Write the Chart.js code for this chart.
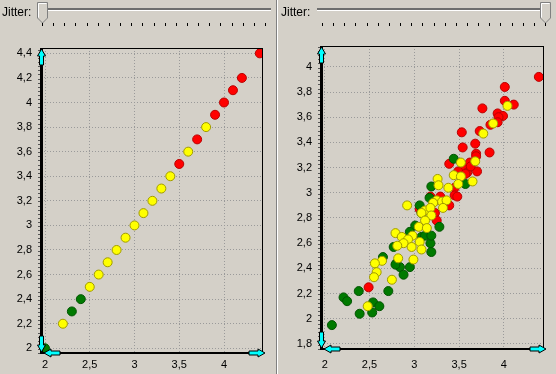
<!DOCTYPE html>
<html>
<head>
<meta charset="utf-8">
<script src="https://cdn.jsdelivr.net/npm/chart.js@4.4.0/dist/chart.umd.min.js"></script>
<style>
  html, body { margin:0; padding:0; background:#d4d0c8; }
  body { width:556px; height:374px; position:relative; overflow:hidden; font-family:"Liberation Sans", Arial, sans-serif; }
  .lbl { position:absolute; top:5px; font-size:12px; color:#000; z-index:5; }
  .track { position:absolute; top:8px; height:2px; background:#6e6e6e; border-bottom:1px solid #ffffff; z-index:5; }
  .ticks { position:absolute; top:23px; z-index:6; }
  .thumb { position:absolute; top:2px; z-index:6; }
  .box { position:absolute; top:0; z-index:1; }
  #sep1 { position:absolute; left:276px; top:0; width:1px; height:374px; background:#808080; }
  #sep2 { position:absolute; left:277px; top:0; width:1px; height:374px; background:#ffffff; }
</style>
</head>
<body>
<div class="lbl" style="left:2px">Jitter:</div>
<div class="track" style="left:45px;width:226px"></div>
<svg class="thumb" style="left:37px" width="12" height="22"><polygon points="0.5,0.5 10.5,0.5 10.5,16 5.5,21 0.5,16" fill="#d4d0c8" stroke="#808080"/><polyline points="1.5,15.5 1.5,1.5 9.5,1.5" fill="none" stroke="#ffffff"/></svg>
<svg class="ticks" id="ticksL" style="left:0" width="277" height="4"></svg>

<div class="lbl" style="left:281px">Jitter:</div>
<div class="track" style="left:317px;width:232px"></div>
<svg class="thumb" style="left:540px" width="12" height="22"><polygon points="0.5,0.5 10.5,0.5 10.5,16 5.5,21 0.5,16" fill="#d4d0c8" stroke="#808080"/><polyline points="1.5,15.5 1.5,1.5 9.5,1.5" fill="none" stroke="#ffffff"/></svg>
<svg class="ticks" id="ticksR" style="left:0" width="556" height="4"></svg>

<div id="sep1"></div><div id="sep2"></div>

<div class="box" style="left:0;width:277px;height:374px"><canvas id="cL" width="277" height="374"></canvas></div>
<div class="box" style="left:279px;width:277px;height:374px"><canvas id="cR" width="277" height="374"></canvas></div>

<script>
// ---------- data ----------
const sliderTickCount = 21;

const xTickValues = [2, 2.5, 3, 3.5, 4];
const leftYTickValues = [2, 2.2, 2.4, 2.6, 2.8, 3, 3.2, 3.4, 3.6, 3.8, 4, 4.2, 4.4];
const rightYTickValues = [1.8, 2, 2.2, 2.4, 2.6, 2.8, 3, 3.2, 3.4, 3.6, 3.8, 4];

// left panel (no jitter): x equals y
const leftGreenX  = [2.0, 2.3, 2.4];
const leftGreenY  = [2.0, 2.3, 2.4];
const leftYellowX = [2.2, 2.5, 2.6, 2.7, 2.8, 2.9, 3.0, 3.1, 3.2, 3.3, 3.4, 3.6, 3.8];
const leftYellowY = [2.2, 2.5, 2.6, 2.7, 2.8, 2.9, 3.0, 3.1, 3.2, 3.3, 3.4, 3.6, 3.8];
const leftRedX    = [3.5, 3.7, 3.9, 4.0, 4.1, 4.2, 4.4];
const leftRedY    = [3.5, 3.7, 3.9, 4.0, 4.1, 4.2, 4.4];

// right panel (full jitter)
const rightRedX = [4.39, 4.01, 4.01, 4.11, 3.76, 3.93, 3.99, 3.94, 3.93, 3.85, 3.53, 3.73, 3.68, 3.54, 3.84, 3.69,
                   3.69, 3.39, 3.62, 3.55, 3.70, 3.59, 3.49, 3.45, 3.45, 3.48, 3.18, 3.39, 3.23, 3.25, 2.49, 3.29,
                   3.63, 3.57, 3.06];
const rightRedY = [3.92, 3.84, 3.73, 3.70, 3.67, 3.63, 3.61, 3.60, 3.56, 3.54, 3.48, 3.49, 3.39, 3.36, 3.32, 3.31,
                   3.29, 3.23, 3.24, 3.19, 3.17, 3.16, 3.17, 3.04, 2.98, 2.97, 2.97, 2.90, 2.84, 2.78, 2.25, 2.97,
                   3.21, 3.15, 2.87];
const rightYellowX = [4.04, 3.88, 3.77, 3.52, 3.68, 3.44, 3.52, 3.65, 3.49, 3.26, 3.27, 3.38, 3.25, 3.31, 3.36, 2.92,
                      3.32, 3.21, 3.12, 3.18, 3.19, 3.08, 3.12, 3.05, 3.14, 2.79, 2.86, 2.98, 2.93, 3.06, 2.88, 2.81,
                      2.97, 3.08, 2.64, 2.82, 2.99, 2.56, 2.58, 2.55, 2.75, 2.48];
const rightYellowY = [3.69, 3.55, 3.47, 3.24, 3.25, 3.14, 3.13, 3.09, 3.07, 3.11, 3.06, 3.04, 2.94, 2.93, 2.94, 2.90,
                      2.88, 2.92, 2.86, 2.88, 2.82, 2.84, 2.78, 2.73, 2.72, 2.68, 2.65, 2.66, 2.63, 2.61, 2.60, 2.58,
                      2.57, 2.55, 2.46, 2.48, 2.47, 2.44, 2.37, 2.33, 2.31, 2.10];
const rightGreenX = [3.44, 3.57, 3.19, 3.17, 3.06, 3.08, 3.28, 3.01, 2.95, 3.08, 3.18, 3.19, 2.77, 2.65, 2.80, 2.84,
                     2.95, 2.88, 2.71, 2.38, 2.21, 2.25, 2.54, 2.61, 2.39, 2.53, 2.08, 3.12, 3.19, 2.79];
const rightGreenY = [3.27, 3.07, 3.05, 2.96, 2.90, 2.84, 2.73, 2.74, 2.69, 2.65, 2.60, 2.53, 2.57, 2.49, 2.44, 2.41,
                     2.41, 2.35, 2.22, 2.22, 2.17, 2.14, 2.13, 2.10, 2.04, 2.05, 1.95, 2.66, 2.66, 2.43];

// ---------- slider ticks ----------
function sliderTicks(id, x0, x1) {
  const el = document.getElementById(id);
  let s = '';
  for (let i = 0; i < sliderTickCount; i++) {
    const x = Math.round(x0 + (x1 - x0) * i / (sliderTickCount - 1));
    s += '<rect x="' + x + '" y="0" width="1" height="3" fill="#000"/>';
  }
  el.innerHTML = s;
}
sliderTicks('ticksL', 42, 265);
sliderTicks('ticksR', 322, 545);

// ---------- chart helpers ----------
const pts = (xs, ys) => xs.map((x, i) => ({x: x, y: ys[i]}));
const fmt = v => String(v).replace('.', ',');
const FONT = {family: '"Liberation Sans", Arial, sans-serif', size: 11};

function ds(xs, ys, fill, border) {
  return {data: pts(xs, ys), backgroundColor: fill, borderColor: border, borderWidth: 1,
          pointRadius: 4.5, pointHoverRadius: 4.5};
}

function drawArrow(ctx, x, y, dir) {
  // tip at (x,y); dir: 'up','down','left','right'
  const L = 16, H = 7, hw = 4, sw = 2;
  const shape = [[0,0],[H,-hw],[H,-sw],[L,-sw],[L,sw],[H,sw],[H,hw]];
  const rot = {left:[1,0,0,1], right:[-1,0,0,1], up:[0,1,1,0], down:[0,-1,1,0]}[dir];
  ctx.beginPath();
  shape.forEach((p, i) => {
    const px = x + rot[0]*p[0] + rot[2]*p[1];
    const py = y + rot[1]*p[0] + rot[3]*p[1];
    if (i === 0) ctx.moveTo(px, py); else ctx.lineTo(px, py);
  });
  ctx.closePath();
  ctx.fillStyle = '#00ffff';
  ctx.fill();
  ctx.strokeStyle = '#000';
  ctx.lineWidth = 1;
  ctx.stroke();
}

const decor = {
  id: 'decor',
  afterDraw(chart) {
    const {ctx, chartArea: a} = chart;
    ctx.save();
    ctx.strokeStyle = '#000';
    ctx.lineWidth = 1;
    ctx.strokeRect(a.left + 0.5, a.top + 0.5, a.right - a.left - 1, a.bottom - a.top);
    // minor ticks on y axis
    const ys = chart.scales.y;
    const step = (ys.getPixelForValue(ys.ticks[0].value) - ys.getPixelForValue(ys.ticks[1].value)) / 6;
    ctx.beginPath();
    for (let p = a.bottom; p > a.top; p -= step) {
      ctx.moveTo(a.left - 3, Math.round(p) + 0.5); ctx.lineTo(a.left + 2, Math.round(p) + 0.5);
    }
    ctx.strokeStyle = '#555';
    ctx.stroke();
    // thick axes
    ctx.fillStyle = '#000';
    ctx.fillRect(a.left - 1, a.top, 3, a.bottom - a.top + 1);
    ctx.fillRect(a.left - 1, a.bottom - 1, a.right - a.left + 2, 2);
    // arrows
    drawArrow(ctx, a.left + 0.5, a.top + 1, 'up');
    drawArrow(ctx, a.left + 0.5, a.bottom - 1, 'down');
    drawArrow(ctx, a.left + 3, a.bottom, 'left');
    drawArrow(ctx, a.right + 2, a.bottom, 'right');
    ctx.restore();
  }
};

function makeChart(id, sets, cfg) {
  return new Chart(document.getElementById(id), {
    type: 'scatter',
    data: {datasets: sets},
    plugins: [decor],
    options: {
      responsive: false, animation: false, devicePixelRatio: 1,
      layout: {padding: {top: cfg.top, right: cfg.right, left: 0, bottom: 0}},
      plugins: {legend: {display: false}, tooltip: {enabled: false}},
      scales: {
        x: {
          type: 'linear', min: cfg.xMin, max: cfg.xMax,
          afterFit: s => { s.height = cfg.xH; },
          afterBuildTicks: s => { s.ticks = xTickValues.map(v => ({value: v})); },
          ticks: {callback: fmt, font: FONT, color: '#000', padding: cfg.xPad, maxRotation: 0, autoSkip: false},
          grid: {color: '#9a9a9a', drawTicks: false, lineWidth: 1},
          border: {display: false, dash: [1, 2]}
        },
        y: {
          type: 'linear', min: cfg.yMin, max: cfg.yMax,
          afterFit: s => { s.width = cfg.yW; },
          afterBuildTicks: s => { s.ticks = cfg.yTicks.map(v => ({value: v})); },
          ticks: {callback: fmt, font: FONT, color: '#000', padding: 9, autoSkip: false},
          grid: {color: '#9a9a9a', drawTicks: false, lineWidth: 1},
          border: {display: false, dash: [1, 2]}
        }
      }
    }
  });
}

makeChart('cL', [
  ds(leftYellowX, leftYellowY, '#ffff00', '#a09a00'),
  ds(leftGreenX, leftGreenY, '#007a00', '#005400'),
  ds(leftRedX, leftRedY, '#ff0000', '#b80000')
], {top: 48, right: 14, xH: 21, yW: 41, xPad: 5,
    xMin: 1.9553, xMax: 4.4357, yMin: 1.9618, yMax: 4.4435, yTicks: leftYTickValues});

makeChart('cR', [
  ds(rightYellowX, rightYellowY, '#ffff00', '#a09a00'),
  ds(rightGreenX, rightGreenY, '#007a00', '#005400'),
  ds(rightRedX, rightRedY, '#ff0000', '#b80000')
], {top: 46, right: 12, xH: 25, yW: 42, xPad: 9,
    xMin: 1.9587, xMax: 4.4475, yMin: 1.7603, yMax: 4.1651, yTicks: rightYTickValues});
</script>
</body>
</html>
